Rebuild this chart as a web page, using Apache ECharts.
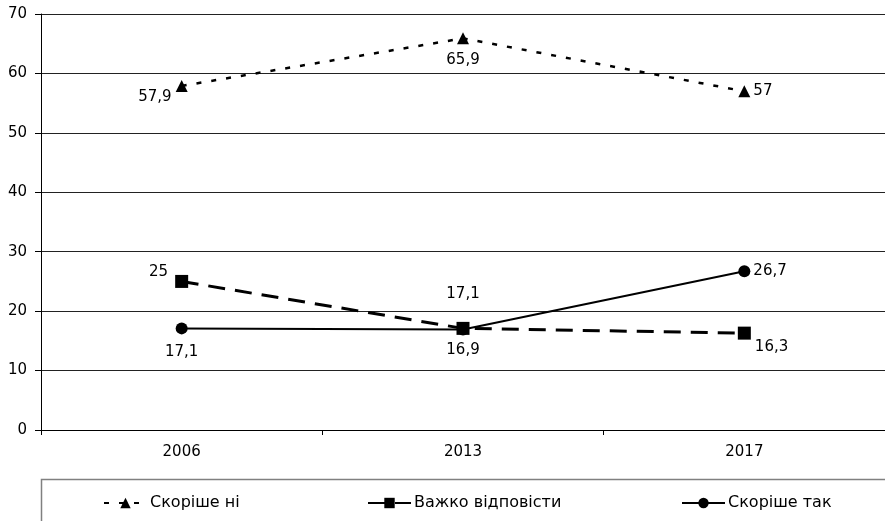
<!DOCTYPE html>
<html>
<head>
<meta charset="utf-8">
<script src="https://cdn.jsdelivr.net/npm/echarts@6/dist/echarts.min.js"></script>
<style>html,body{margin:0;padding:0;background:#fff}#c{width:885px;height:521px}</style>
</head>
<body>
<div id="c"></div>
<script>
const categories = ['2006', '2013', '2017'];
const seriesNames = ['Скоріше ні', 'Важко відповісти', 'Скоріше так'];
const valuesNo = [57.9, 65.9, 57];
const valuesHard = [25, 17.1, 16.3];
const valuesYes = [17.1, 16.9, 26.7];
const yTicks = [0, 10, 20, 30, 40, 50, 60, 70];

const FONT = 'DejaVu Sans';
const FS = 15;
const fmt = v => String(v).replace('.', ',');

function withLabels(values, labelCfgs) {
  return values.map((v, i) => ({ value: v, label: labelCfgs[i] }));
}

const chart = echarts.init(document.getElementById('c'), null, { renderer: 'canvas' });
const baseLabel = { show: true, color: '#000', fontFamily: FONT, fontSize: FS, formatter: p => fmt(p.value) };

const option = {
  backgroundColor: '#fff',
  animation: false,
  textStyle: { fontFamily: FONT },
  grid: { left: 41, top: 14, width: 850, bottom: 91, containLabel: false },
  xAxis: {
    type: 'category', data: categories, boundaryGap: true,
    axisLine: { lineStyle: { color: '#000', width: 1 } },
    axisTick: { show: true, length: 5, lineStyle: { color: '#000' } },
    axisLabel: { color: '#000', fontFamily: FONT, fontSize: FS, margin: 15 }
  },
  yAxis: {
    type: 'value', min: yTicks[0], max: yTicks[yTicks.length - 1], interval: 10,
    axisLine: { show: true, lineStyle: { color: '#000', width: 1 } },
    axisTick: { show: true, length: 6, lineStyle: { color: '#000' } },
    axisLabel: { color: '#000', fontFamily: FONT, fontSize: FS, margin: 14 },
    splitLine: { show: true, lineStyle: { color: '#222', width: 1 } }
  },
  legend: [0, 1, 2].map((k, i) => ({
    data: [seriesNames[k]],
    left: [103, 367, 681][i], top: 495,
    itemWidth: 43, itemHeight: 13, itemGap: 0, padding: 0,
    textStyle: { color: '#000', fontFamily: FONT, fontSize: 16, padding: [0, 0, 0, -2] }
  })),
  graphic: [{
    type: 'rect', shape: { x: 41.5, y: 479.5, width: 900, height: 100 },
    style: { fill: 'none', stroke: '#808080', lineWidth: 1.5 }, z: -1
  }],
  series: [
    {
      name: seriesNames[0], type: 'line', data: withLabels(valuesNo, [
        { position: 'left', distance: 4, offset: [0, 11] },
        { position: 'bottom', distance: 8 },
        { position: 'right', distance: 3 }
      ]),
      symbol: 'triangle', symbolSize: 12, itemStyle: { color: '#000' },
      lineStyle: { color: '#000', width: 2.5, type: [5, 10] },
      label: baseLabel, z: 3
    },
    {
      name: seriesNames[2], type: 'line', data: withLabels(valuesYes, [
        { position: 'bottom', distance: 10 },
        { position: 'bottom', distance: 7 },
        { position: 'right', distance: 3 }
      ]),
      symbol: 'circle', symbolSize: 12, itemStyle: { color: '#000' },
      lineStyle: { color: '#000', width: 2, type: 'solid' },
      label: baseLabel, z: 3
    },
    {
      name: seriesNames[1], type: 'line', data: withLabels(valuesHard, [
        { position: 'left', distance: 7, offset: [0, -9] },
        { position: 'top', distance: 20 },
        { position: 'right', distance: 4, offset: [0, 14] }
      ]),
      symbol: 'rect', symbolSize: 13, itemStyle: { color: '#000' },
      lineStyle: { color: '#000', width: 3, type: [17, 10] },
      label: baseLabel, z: 4
    }
  ]
};
chart.setOption(option);
</script>
</body>
</html>
